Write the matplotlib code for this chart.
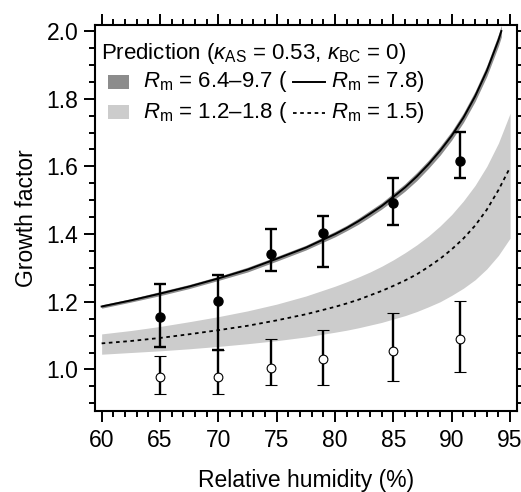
import matplotlib
matplotlib.use("Agg")
import numpy as np
import matplotlib.pyplot as plt
from matplotlib.patches import Rectangle
from matplotlib.ticker import MultipleLocator

plt.rcParams['font.family'] = ['Liberation Sans', 'DejaVu Sans']
plt.rcParams['mathtext.fontset'] = 'custom'
plt.rcParams['mathtext.rm'] = 'Liberation Sans'
plt.rcParams['mathtext.it'] = 'Liberation Sans:italic'

# ####################################################################
# prediction curves
rh_pred = [60, 62.5, 65, 67.5, 70, 72.5, 75, 77.5, 80, 81, 82, 83, 84, 85,
           86, 87, 88, 89, 90, 91, 92, 93, 94, 95]
rh_pred_hi = [60, 62.5, 65, 67.5, 70, 72.5, 75, 77.5, 80, 81, 82, 83, 84, 85,
              86, 87, 88, 89, 90, 91, 92, 93, 94, 94.25]

# R_m = 7.8 (solid) and band 6.4-9.7
gf_rm78 = [1.186, 1.204, 1.224, 1.245, 1.269, 1.295, 1.327, 1.360, 1.400,
           1.418, 1.438, 1.460, 1.483, 1.510, 1.538, 1.570, 1.606, 1.646,
           1.691, 1.744, 1.807, 1.882, 1.973, 2.000]
gf_rm64 = [1.181, 1.199, 1.218, 1.239, 1.263, 1.288, 1.320, 1.353, 1.392,
           1.410, 1.429, 1.451, 1.474, 1.500, 1.527, 1.558, 1.594, 1.633,
           1.678, 1.730, 1.792, 1.866, 1.956, 1.983]
gf_rm97 = [1.191, 1.209, 1.230, 1.251, 1.275, 1.302, 1.334, 1.367, 1.408,
           1.426, 1.447, 1.470, 1.493, 1.521, 1.549, 1.582, 1.618, 1.659,
           1.704, 1.758, 1.822, 1.898, 1.990, 2.017]

# R_m = 1.5 (dotted) and band 1.2-1.8
gf_rm15 = [1.077, 1.084, 1.093, 1.104, 1.116, 1.129, 1.145, 1.163, 1.185,
           1.195, 1.206, 1.219, 1.232, 1.247, 1.263, 1.281, 1.303, 1.327,
           1.355, 1.387, 1.425, 1.472, 1.530, 1.597]
gf_rm12 = [1.045, 1.050, 1.055, 1.061, 1.068, 1.076, 1.085, 1.096, 1.110,
           1.116, 1.123, 1.131, 1.139, 1.149, 1.159, 1.171, 1.185, 1.200,
           1.219, 1.240, 1.265, 1.297, 1.337, 1.388]
gf_rm18 = [1.105, 1.115, 1.127, 1.141, 1.156, 1.173, 1.193, 1.217, 1.246,
           1.259, 1.273, 1.288, 1.305, 1.324, 1.345, 1.368, 1.394, 1.424,
           1.458, 1.498, 1.544, 1.600, 1.669, 1.757]

# measurements
rh_meas = [65, 70, 74.5, 79, 85, 90.7]
gf_filled = [1.154, 1.203, 1.341, 1.404, 1.491, 1.616]
gf_filled_lo = [1.066, 1.056, 1.292, 1.304, 1.427, 1.567]
gf_filled_hi = [1.253, 1.279, 1.415, 1.453, 1.566, 1.703]
gf_open = [0.979, 0.979, 1.004, 1.030, 1.055, 1.091]
gf_open_lo = [0.928, 0.928, 0.954, 0.954, 0.967, 0.991]
gf_open_hi = [1.040, 1.056, 1.090, 1.117, 1.166, 1.202]


# ####################################################################
def err(y, lo, hi):
    y = np.array(y)
    return [y - np.array(lo), np.array(hi) - y]


fig = plt.figure(figsize=(5.21, 4.92), dpi=100)
ax = fig.add_axes([0.1823, 0.1652, 0.8091, 0.7834])

ax.fill_between(rh_pred, gf_rm12, gf_rm18, color="#cccccc", lw=0, zorder=1)
ax.plot(rh_pred, gf_rm15, color="black", lw=1.3, ls=(0, (2, 2)), zorder=2)
ax.fill_between(rh_pred_hi, gf_rm64, gf_rm97, color="#8c8c8c", lw=0, zorder=1)
ax.plot(rh_pred_hi, gf_rm78, color="black", lw=1.4, zorder=2)

ax.errorbar(rh_meas, gf_filled, yerr=err(gf_filled, gf_filled_lo, gf_filled_hi),
            fmt="o", ms=6.5, mfc="black", mec="black", color="black",
            elinewidth=1.7, capsize=4, capthick=1.7, zorder=3)
ax.errorbar(rh_meas, gf_open, yerr=err(gf_open, gf_open_lo, gf_open_hi),
            fmt="o", ms=6.3, mfc="white", mec="black", mew=0.8, color="black",
            elinewidth=1.7, capsize=4, capthick=1.7, zorder=3)

ax.set_xlim(59.43, 95.55)
ax.set_ylim(0.878, 2.017)
ax.xaxis.set_major_locator(MultipleLocator(5))
ax.xaxis.set_minor_locator(MultipleLocator(1))
ax.yaxis.set_major_locator(MultipleLocator(0.2))
ax.yaxis.set_minor_locator(MultipleLocator(0.05))
ax.yaxis.set_major_formatter(plt.FormatStrFormatter("%.1f"))
ax.tick_params(which="both", direction="out", top=True, right=True,
               width=1.4, labelsize=16.5)
ax.tick_params(which="major", length=8, pad=4)
ax.tick_params(axis="x", which="major", pad=5.5)
ax.tick_params(which="minor", length=4)
for s in ax.spines.values():
    s.set_linewidth(1.5)

ax.set_xlabel("Relative humidity (%)", fontsize=16.5, labelpad=12)
ax.set_ylabel("Growth factor", fontsize=16.5, labelpad=6)

# legend, drawn by hand
fs_leg = 16
ax.text(0.014, 0.928, r"Prediction ($\kappa_{\rm AS}$ = 0.53, $\kappa_{\rm BC}$ = 0)",
        transform=ax.transAxes, va="center", ha="left", fontsize=fs_leg)
ax.add_patch(Rectangle((0.031, 0.834), 0.050, 0.037, transform=ax.transAxes,
                       color="#8c8c8c", lw=0))
ax.add_patch(Rectangle((0.031, 0.756), 0.050, 0.037, transform=ax.transAxes,
                       color="#cccccc", lw=0))
rows = [(0.853, r"$R_{\rm m}$ = 6.4–9.7 (", r"$R_{\rm m}$ = 7.8)", "-"),
        (0.7725, r"$R_{\rm m}$ = 1.2–1.8 (", r"$R_{\rm m}$ = 1.5)", (0, (2, 2)))]
fig.canvas.draw()
inv = ax.transAxes.inverted()
px = 1.0 / (ax.bbox.width)
for yy, t1, t2, ls in rows:
    a = ax.text(0.1146, yy, t1, transform=ax.transAxes, va="center",
                ha="left", fontsize=fs_leg)
    fig.canvas.draw()
    x_end = inv.transform(a.get_window_extent().p1)[0]
    ax.plot([x_end + 5 * px, x_end + 37 * px], [yy, yy], color="black",
            lw=1.4 if ls == "-" else 1.3, ls=ls, transform=ax.transAxes)
    ax.text(x_end + 43 * px, yy, t2, transform=ax.transAxes, va="center",
            ha="left", fontsize=fs_leg)

fig.savefig("out.png", dpi=100)
